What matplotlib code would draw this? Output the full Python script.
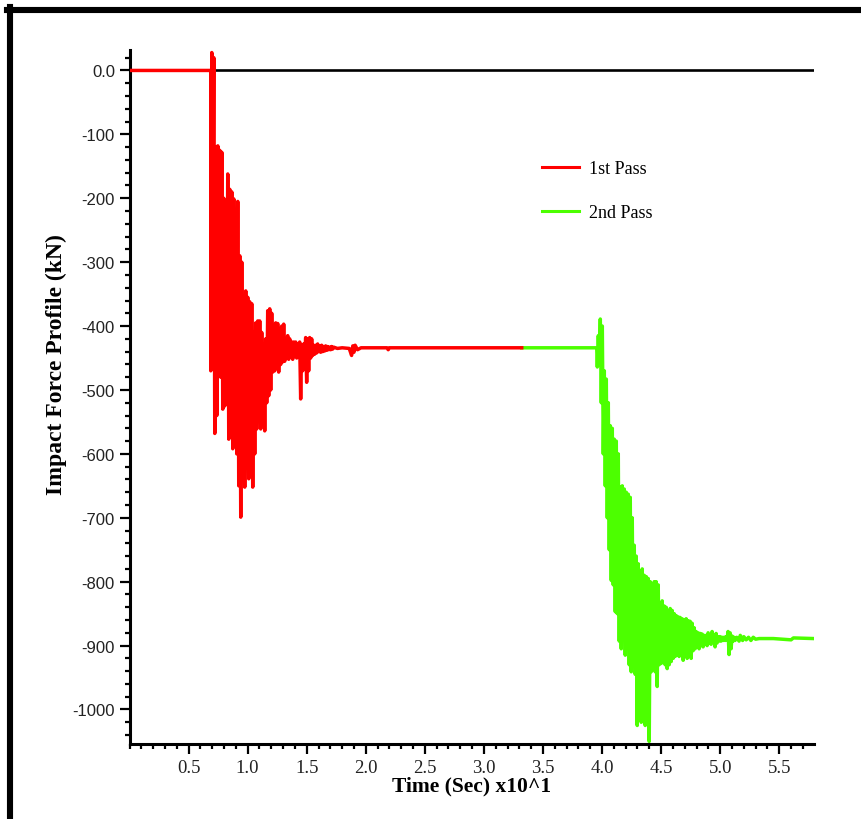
import numpy as np
import matplotlib
matplotlib.use('Agg')
import matplotlib.pyplot as plt
from matplotlib.lines import Line2D
from matplotlib.ticker import MultipleLocator, FixedLocator, FuncFormatter

# ---- data (time in s x10, force in kN) ----
# 1st pass: flat at zero, impact burst, then settles at about -434
red_flat_x = [0.0, 0.688]
red_flat_y = [0.0, 0.0]
red_burst_start, red_burst_end = 0.688, 1.728
red_burst = [
    -470, 28, -320, 20, -568, -120, -540, -118, -470, -125,
    -480, -128, -530, -200, -525, -220, -480, -162, -577, -186,
    -570, -190, -592, -201, -560, -251, -600, -205, -650, -290,
    -699, -300, -640, -362, -652, -345, -610, -355, -639, -362,
    -620, -365, -652, -410, -600, -395, -561, -392, -540, -392,
    -561, -410, -530, -430, -564, -420, -520, -376, -509, -373,
    -500, -380, -472, -400, -470, -395, -465, -396, -472, -405,
    -460, -400, -456, -397, -455, -420, -450, -415, -452, -420,
    -448, -425, -452, -425, -446, -425, -450, -428, -445, -425,
    -514, -430, -470, -428, -450, -418, -488, -420, -470, -418,
    -450, -420, -446, -430, -444, -430, -442, -428, -440, -431,
    -441, -430, -440, -432, -439, -431, -438, -432, -437, -433,
    -437, -432, -436, -433,
]
red_tail_x = [1.76, 1.80, 1.86, 1.88, 1.89, 1.90, 1.91, 1.93, 1.96, 2.05, 2.18, 2.19, 2.20, 3.32]
red_tail_y = [-435, -434, -435, -446, -431, -441, -430, -437, -434, -434, -434, -437, -434, -434]

# 2nd pass: continues at -434, second impact, settles at about -889
green_flat_x = [3.32, 3.955]
green_flat_y = [-434, -434]
green_burst_start, green_burst_end = 3.960, 5.126
green_burst = [
    -464, -415, -460, -389, -520, -400, -600, -470, -650, -483,
    -700, -520, -750, -556, -798, -560, -805, -577, -847, -580,
    -850, -600, -893, -652, -905, -650, -880, -655, -915, -660,
    -905, -663, -930, -668, -941, -700, -930, -743, -945, -760,
    -1025, -772, -1000, -790, -1020, -780, -990, -790, -1025, -792,
    -980, -795, -1050, -800, -941, -805, -935, -800, -941, -800,
    -964, -805, -930, -835, -928, -830, -925, -838, -930, -840,
    -936, -847, -930, -842, -925, -845, -920, -850, -917, -853,
    -915, -855, -917, -856, -912, -858, -923, -860, -915, -858,
    -920, -861, -912, -862, -920, -865, -908, -872, -905, -878,
    -902, -880, -905, -881, -900, -882, -902, -884, -898, -884,
    -900, -880, -896, -885, -898, -878, -895, -884, -902, -881,
    -896, -886, -893, -886, -893, -887, -892, -887, -892, -886,
    -891, -878, -914, -880, -905, -885, -893, -887, -892,
]
green_tail_x = [5.14, 5.16, 5.17, 5.19, 5.20, 5.22, 5.24, 5.26, 5.28, 5.30, 5.33, 5.45, 5.60, 5.62, 5.79]
green_tail_y = [-887, -893, -884, -892, -886, -891, -887, -892, -887, -890, -889, -889, -891, -888, -889]

x_ticks = [0.5, 1.0, 1.5, 2.0, 2.5, 3.0, 3.5, 4.0, 4.5, 5.0, 5.5]
y_ticks = [0, -100, -200, -300, -400, -500, -600, -700, -800, -900, -1000]

serif = ['Liberation Serif', 'DejaVu Serif']
sans = ['Liberation Sans', 'DejaVu Sans']


def build_series(flat_x, flat_y, start, end, burst, tail_x, tail_y):
    # sampled burst is evenly spaced in time between start and end
    t = np.linspace(start, end, len(burst))
    x = np.concatenate([flat_x, t, tail_x])
    y = np.concatenate([flat_y, burst, tail_y])
    return x, y


red_x, red_y = build_series(red_flat_x, red_flat_y, red_burst_start, red_burst_end,
                            red_burst, red_tail_x, red_tail_y)
green_x, green_y = build_series(green_flat_x, green_flat_y, green_burst_start, green_burst_end,
                                green_burst, green_tail_x, green_tail_y)

fig = plt.figure(figsize=(8.61, 8.2), dpi=100)
ax = fig.add_axes([129.5 / 861, 75 / 820, 684 / 861, 694 / 820])

ax.axhline(0, color='black', lw=1.9, zorder=1)
ax.plot(red_x, red_y, color='#ff0000', lw=2.5, label='1st Pass', zorder=3)
ax.plot(green_x, green_y, color='#4cff00', lw=2.5, label='2nd Pass', zorder=2)

ax.set_xlim(0, 5.79)
ax.set_ylim(-1054, 32)

ax.spines['top'].set_visible(False)
ax.spines['right'].set_visible(False)
for s in ['left', 'bottom']:
    ax.spines[s].set_linewidth(2.2)

ax.xaxis.set_major_locator(FixedLocator(x_ticks))
ax.xaxis.set_minor_locator(MultipleLocator(0.1))
ax.yaxis.set_major_locator(FixedLocator(y_ticks))
ax.yaxis.set_minor_locator(MultipleLocator(20))
ax.xaxis.set_major_formatter(FuncFormatter(lambda v, p: f'{v:.1f}'))
ax.yaxis.set_major_formatter(FuncFormatter(lambda v, p: '0.0' if v == 0 else f'{v:.0f}'))

ax.tick_params(which='major', length=7, width=1.6, direction='out', pad=3.5)
ax.tick_params(which='minor', length=3.8, width=1.6, direction='out')
for lab in ax.get_xticklabels():
    lab.set_family(serif)
    lab.set_fontsize(13.5)
    lab.set_color('#222222')
for lab in ax.get_yticklabels():
    lab.set_family(sans)
    lab.set_fontsize(12)
    lab.set_color('#222222')

ax.set_xlabel('Time (Sec) x10^1', family=serif, fontsize=15.5, fontweight='bold')
ax.set_ylabel('Impact Force Profile (kN)', family=serif, fontsize=17, fontweight='bold')
ax.xaxis.set_label_coords(0.5, -0.046)
ax.yaxis.set_label_coords(-0.092, 0.548)

leg = ax.legend(loc='upper left', bbox_to_anchor=(0.6026, 0.841), frameon=False,
                prop={'family': serif, 'size': 13}, handlelength=2.05,
                handletextpad=0.55, labelspacing=1.47, borderpad=0, borderaxespad=0)
for h in leg.get_lines():
    h.set_linewidth(2.2)

# thick black frame along top and left of the picture
fig.add_artist(Line2D([7 / 861, 1], [1 - 11 / 820, 1 - 11 / 820], color='black', lw=4.4,
                      transform=fig.transFigure))
fig.add_artist(Line2D([10 / 861, 10 / 861], [0, 1 - 8 / 820], color='black', lw=4.4,
                      transform=fig.transFigure))

fig.savefig('out.png', dpi=100, facecolor='white')
